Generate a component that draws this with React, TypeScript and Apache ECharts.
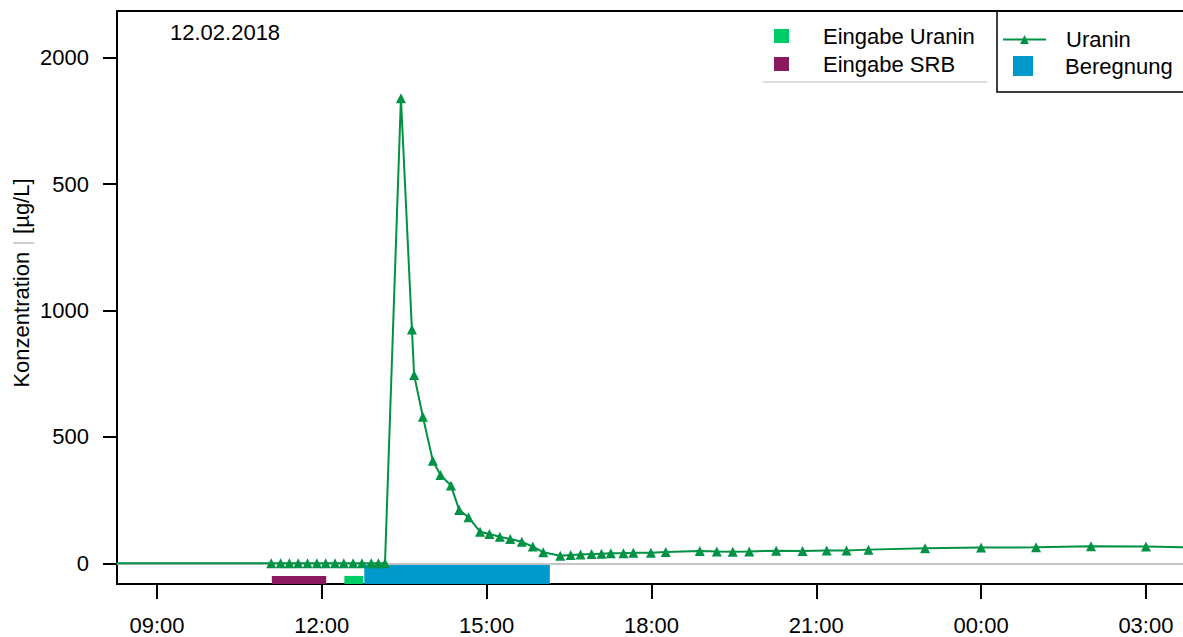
import React, { useEffect, useRef } from "react";
import * as echarts from "echarts";

// Time in hours since 12.02.2018 00:00
const uraninTimes = [
  8.0, 11.08, 11.25, 11.41, 11.57, 11.74, 11.91, 12.07, 12.24, 12.4, 12.57, 12.73, 12.9, 13.03, 13.15,
  13.44, 13.64, 13.68, 13.84, 14.02, 14.16, 14.35, 14.5, 14.67, 14.88, 15.05, 15.24, 15.43, 15.64,
  15.84, 16.03, 16.34, 16.53, 16.71, 16.91, 17.09, 17.26, 17.49, 17.67, 17.99, 18.26, 18.88, 19.19,
  19.48, 19.78, 20.27, 20.75, 21.19, 21.55, 21.95, 22.98, 24.0, 25.0, 26.0, 27.0, 28.0,
];
const uraninValues = [
  0, 0, 0, 0, 0, 0, 0, 0, 0, 0, 0, 0, 0, 0, 0,
  1840, 925, 745, 580, 406, 349, 308, 211, 182, 125, 116, 105, 96, 85,
  66, 44, 30, 33, 35, 37, 38, 40, 40, 42, 42, 45, 49, 47,
  46, 47, 50, 49, 51, 51, 54, 59, 62, 63, 67, 66, 62,
];

// [start, end] in hours
const srbInputPeriods = [[11.09, 12.08]];
const uraninInputPeriods = [[12.41, 12.755]];
const beregnungPeriods = [[12.773, 16.15]];
const inputBarTop = -50;

const xTickValues = [9, 12, 15, 18, 21, 24, 27];
const xTickLabels = ["09:00", "12:00", "15:00", "18:00", "21:00", "00:00", "03:00"];
const yTickValues = [0, 500, 1000, 1500, 2000];
const yTickLabels = ["0", "500", "1000", "500", "2000"];

const xMin = 8.272;
const xMax = 27.675;
const yMin = -82;
const yMax = 2185;

const FONT = "Liberation Sans, Arial, Helvetica, sans-serif";
const FS = 22;

const rectItem = (params: any, api: any) => {
  const p0 = api.coord([api.value(0), api.value(3)]);
  const p1 = api.coord([api.value(1), api.value(2)]);
  return {
    type: "rect",
    shape: { x: p0[0], y: p0[1], width: p1[0] - p0[0], height: p1[1] - p0[1] },
    style: { fill: api.visual("color") },
  };
};

export default function App() {
  const ref = useRef<HTMLDivElement>(null);
  useEffect(() => {
    if (!ref.current) return;
    const chart = echarts.init(ref.current, undefined, { renderer: "svg" });
    const uraninData = uraninTimes.map((t, i) => [t, uraninValues[i]]);
    const barData = (periods: number[][], top: number) =>
      periods.map((p) => [p[0], p[1], yMin, top]);

    const option: any = {
      animation: false,
      textStyle: { fontFamily: FONT },
      grid: { left: 117, right: 0, top: 11, bottom: 53, containLabel: false },
      xAxis: [
        {
          type: "value",
          min: xMin,
          max: xMax,
          position: "bottom",
          axisLine: { show: true, onZero: false, lineStyle: { color: "#000", width: 2 } },
          axisTick: {
            show: true,
            length: 15,
            inside: false,
            customValues: xTickValues,
            lineStyle: { color: "#000", width: 2 },
          },
          axisLabel: {
            customValues: xTickValues,
            formatter: (v: number) => {
              const i = xTickValues.indexOf(v);
              return i >= 0 ? xTickLabels[i] : "";
            },
            margin: 30,
            fontSize: FS,
            color: "#000",
            fontFamily: FONT,
          },
          splitLine: { show: false },
        },
        {
          type: "value",
          min: xMin,
          max: xMax,
          position: "top",
          axisLine: { show: true, onZero: false, lineStyle: { color: "#000", width: 2 } },
          axisTick: { show: false },
          axisLabel: { show: false },
          splitLine: { show: false },
        },
      ],
      yAxis: {
        type: "value",
        min: yMin,
        max: yMax,
        axisLine: { show: true, onZero: false, lineStyle: { color: "#000", width: 2 } },
        axisTick: {
          show: true,
          length: 14,
          inside: false,
          customValues: yTickValues,
          lineStyle: { color: "#000", width: 2 },
        },
        axisLabel: {
          customValues: yTickValues,
          formatter: (v: number) => {
            const i = yTickValues.indexOf(v);
            return i >= 0 ? yTickLabels[i] : "";
          },
          margin: 28,
          fontSize: FS,
          color: "#000",
          fontFamily: FONT,
        },
        splitLine: { show: false },
      },
      legend: [
        {
          data: [
            { name: "Eingabe Uranin", icon: "rect" },
            { name: "Eingabe SRB", icon: "rect" },
          ],
          orient: "vertical",
          left: 774,
          top: 25,
          padding: 0,
          itemWidth: 15,
          itemHeight: 14,
          itemGap: 6,
          selectedMode: false,
          textStyle: { fontSize: FS, color: "#000", fontFamily: FONT, padding: [0, 0, 0, 29] },
        },
        {
          data: ["Uranin"],
          left: 1002,
          top: 28.5,
          padding: 0,
          itemWidth: 43,
          itemHeight: 11,
          selectedMode: false,
          textStyle: { fontSize: FS, color: "#000", fontFamily: FONT, padding: [0, 0, 0, 15] },
        },
        {
          data: [{ name: "Beregnung", icon: "rect" }],
          left: 1013,
          top: 55,
          padding: 0,
          itemWidth: 20,
          itemHeight: 20,
          selectedMode: false,
          textStyle: { fontSize: FS, color: "#000", fontFamily: FONT, padding: [0, 0, 0, 27] },
        },
      ],
      series: [
        {
          name: "Beregnung",
          type: "custom",
          renderItem: rectItem,
          encode: { x: [0, 1], y: [2, 3] },
          itemStyle: { color: "#0099CC" },
          data: barData(beregnungPeriods, 0),
          z: 2,
          markLine: {
            silent: true,
            symbol: "none",
            label: { show: false },
            lineStyle: { color: "#c4c4c4", width: 2, type: "solid" },
            data: [{ yAxis: 0 }],
          },
        },
        {
          name: "Eingabe Uranin",
          type: "custom",
          renderItem: rectItem,
          encode: { x: [0, 1], y: [2, 3] },
          itemStyle: { color: "#00CC66" },
          data: barData(uraninInputPeriods, inputBarTop),
          z: 2,
        },
        {
          name: "Eingabe SRB",
          type: "custom",
          renderItem: rectItem,
          encode: { x: [0, 1], y: [2, 3] },
          itemStyle: { color: "#8B1A5E" },
          data: barData(srbInputPeriods, inputBarTop),
          z: 2,
        },
        {
          name: "Uranin",
          type: "line",
          data: uraninData,
          symbol: "triangle",
          symbolSize: 10,
          showAllSymbol: true,
          clip: true,
          lineStyle: { color: "#009245", width: 2 },
          itemStyle: { color: "#009245" },
          z: 5,
        },
      ],
      graphic: [
        {
          type: "text",
          x: 170,
          y: 32,
          style: {
            text: "12.02.2018",
            fontSize: FS,
            fontFamily: FONT,
            fill: "#000",
            align: "left",
            verticalAlign: "middle",
          },
        },
        {
          type: "text",
          x: 21,
          y: 283,
          rotation: Math.PI / 2,
          style: {
            text: "Konzentration {g||} [µg/L]",
            fontSize: FS,
            fontFamily: FONT,
            fill: "#000",
            align: "center",
            verticalAlign: "middle",
            rich: { g: { fill: "#cccccc", fontSize: FS, fontFamily: FONT } },
          },
        },
        {
          type: "rect",
          shape: { x: 997, y: 11, width: 220, height: 81 },
          style: { fill: "none", stroke: "#000", lineWidth: 1.5 },
        },
        {
          type: "line",
          shape: { x1: 763, y1: 82, x2: 987, y2: 82 },
          style: { stroke: "#bbbbbb", lineWidth: 1 },
        },
      ],
    };
    chart.setOption(option);
    return () => chart.dispose();
  }, []);
  return (
    <div
      ref={ref}
      style={{ position: "absolute", left: 0, top: 0, width: 1183, height: 637, background: "#fff" }}
    />
  );
}
